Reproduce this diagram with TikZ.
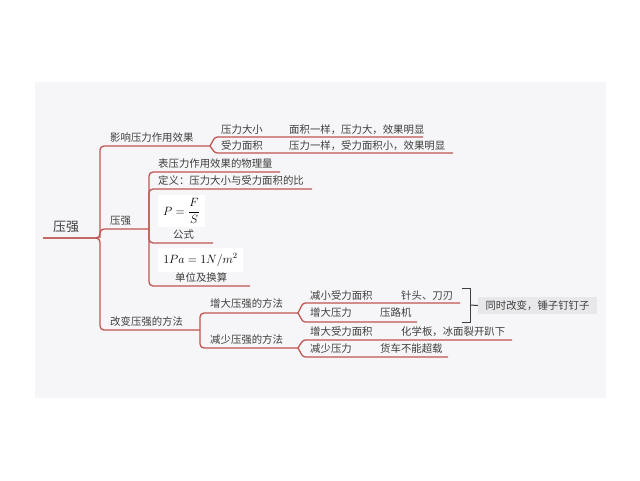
\documentclass[tikz,border=0pt]{standalone}
\usepackage{fontspec}
\newfontfamily\cjk{Noto Sans CJK SC}
\definecolor{ln}{RGB}{192,86,82}
\definecolor{txt}{RGB}{62,62,62}
\definecolor{bg}{RGB}{246,246,248}
\definecolor{tagc}{RGB}{232,232,234}
\begin{document}
\begin{tikzpicture}[x=1pt,y=-1pt,
  lbl/.style={anchor=west,inner sep=0pt,font=\cjk\fontsize{10.4}{12}\selectfont,text=txt},
  conn/.style={draw=ln,line width=1.3pt,rounded corners=4pt},
  fork/.style={draw=ln,line width=1.3pt,rounded corners=2.5pt},
  fbox/.style={fill=white,inner sep=0pt,text=black},
  brk/.style={draw=txt,line width=1pt}]
\useasboundingbox (0,0) rectangle (640,480);
\fill[white] (0,0) rectangle (640,480);
\fill[bg] (35,82) rectangle (606,398);

% texts
\node[lbl,font=\cjk\fontsize{13}{15}\selectfont] (root) at (53,227) {压强};
\node[lbl] (a) at (110,138) {影响压力作用效果};
\node[lbl] (a1) at (221,130) {压力大小};
\node[lbl] (a1x) at (289,130) {面积一样，压力大，效果明显};
\node[lbl] (a2) at (221,146) {受力面积};
\node[lbl] (a2x) at (289,146) {压力一样，受力面积小，效果明显};
\node[lbl] (b) at (110,221) {压强};
\node[lbl] (b1) at (158,164) {表压力作用效果的物理量};
\node[lbl] (b2) at (158,181) {定义：压力大小与受力面积的比};
\node[fbox,minimum width=47pt,minimum height=32pt,font=\fontsize{13}{16}\selectfont] (f1) at (181.5,211) {$\displaystyle P=\frac{F}{S}$};
\node[lbl] (b3) at (173,235) {公式};
\node[fbox,minimum width=85pt,minimum height=24pt,font=\fontsize{12}{14}\selectfont] (f2) at (200.5,260) {$1Pa=1N/m^2$};
\node[lbl] (b4) at (175,278) {单位及换算};
\node[lbl] (c) at (110,322) {改变压强的方法};
\node[lbl] (c1) at (210,304) {增大压强的方法};
\node[lbl] (c2) at (210,340) {减少压强的方法};
\node[lbl] (c11) at (310,296) {减小受力面积};
\node[lbl] (c11x) at (401,296) {针头、刀刃};
\node[lbl] (c12) at (310,313) {增大压力};
\node[lbl] (c12x) at (380,313) {压路机};
\node[lbl] (c21) at (310,332) {增大受力面积};
\node[lbl] (c21x) at (401,332) {化学板，冰面裂开趴下};
\node[lbl] (c22) at (310,349) {减少压力};
\node[lbl] (c22x) at (380,349) {货车不能超载};
\node[fill=tagc,inner sep=0pt,minimum width=119pt,minimum height=17pt,font=\cjk\fontsize{10.4}{12}\selectfont,text=txt] (tag) at (537.5,305.5) {同时改变，锤子钉钉子};

% connector points
\coordinate (r0) at (43,238);
\coordinate (t0) at (100,238);
\coordinate (ea) at (210,146);
\coordinate (eb) at (149,229);
\coordinate (ec) at (200,330);
\coordinate (ec1) at (298,313);
\coordinate (ec2) at (298,348);

% level 1
\draw[conn] (r0) -- (t0) -- (100,146) -- (ea);
\draw[conn] (r0) -- (t0) -- (100,330) -- (ec);
\draw[conn] (t0) -- (100,229) -- (eb);

% level 2 : 影响
\draw[fork] (ea) -- (215,137) -- (423,137);
\draw[fork] (ea) -- (215,153) -- (453,153);

% level 2 : 压强
\draw[conn] (eb) -- (149,172) -- (280,172);
\draw[conn] (eb) -- (149,189) -- (312,189);
\draw[conn] (eb) -- (149,243) -- (213,243);
\draw[conn] (eb) -- (149,286) -- (250,286);

% level 2 : 改变
\draw[conn] (ec) -- (200,313) -- (ec1);
\draw[conn] (ec) -- (200,348) -- (ec2);

% level 3
\draw[fork] (ec1) -- (303,303) -- (460,303);
\draw[fork] (ec1) -- (303,322) -- (417,322);
\draw[fork] (ec2) -- (303,340) -- (512,340);
\draw[fork] (ec2) -- (303,357) -- (448,357);

% bracket
\coordinate (k1) at (462,288);
\coordinate (k2) at (462,322);
\coordinate (km) at (470,305);
\draw[brk] (k1) -- (470,288) -- (470,322) -- (k2);
\draw[brk] (km) -- (tag.west);
\end{tikzpicture}
\end{document}
